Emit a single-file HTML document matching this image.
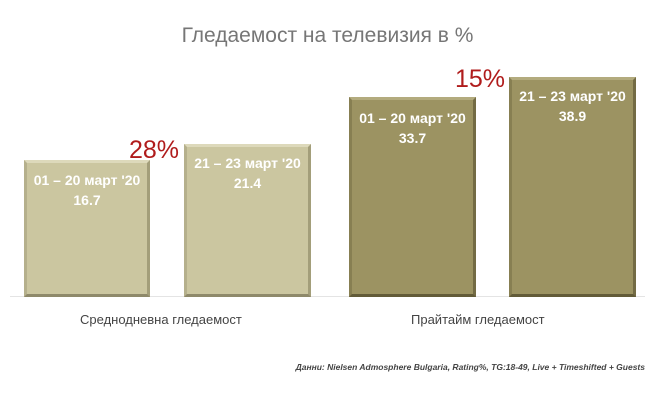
<!DOCTYPE html>
<html><head><meta charset="utf-8"><style>
body{margin:0;width:655px;height:402px;background:#fff;position:relative;overflow:hidden;font-family:"Liberation Sans","DejaVu Sans",sans-serif}
.t{position:absolute;white-space:nowrap}
.bar{position:absolute;box-sizing:border-box;border:3px solid;text-align:center;color:#fff;font-weight:bold;font-size:14px;line-height:20px}
.l{background:#cbc6a0;border-color:#ddd9bb #a39e7a #8e896a #b5b08c}
.d{background:#9c9362;border-color:#b3ab7e #736b44 #625b38 #877f52}
.pct{position:absolute;color:#b01c1c;font-size:25px}
</style></head><body>
<div class="t" style="left:0;width:655px;text-align:center;top:24px;font-size:21px;color:#767676">Гледаемост на телевизия в %</div>
<div style="position:absolute;left:10px;right:10px;top:296px;height:1px;background:#e4e4e4"></div>
<div class="bar l" style="left:24px;top:160px;width:126px;height:137px;padding-top:7px">01 – 20 март '20<br>16.7</div>
<div class="bar l" style="left:184px;top:144px;width:127px;height:153px;padding-top:6px">21 – 23 март '20<br>21.4</div>
<div class="bar d" style="left:349px;top:97px;width:127px;height:200px;padding-top:8px">01 – 20 март '20<br>33.7</div>
<div class="bar d" style="left:509px;top:77px;width:127px;height:220px;padding-top:6px">21 – 23 март '20<br>38.9</div>
<div class="pct" style="left:129px;top:136px">28%</div>
<div class="pct" style="left:455px;top:65px">15%</div>
<div class="t" style="left:80px;top:312px;font-size:13px;color:#444">Среднодневна гледаемост</div>
<div class="t" style="left:411px;top:312px;font-size:13px;color:#444">Прайтайм гледаемост</div>
<div class="t" style="right:10px;top:362px;font-size:8.5px;color:#444;font-weight:bold;font-style:italic">Данни: Nielsen Admosphere Bulgaria, Rating%, TG:18-49, Live + Timeshifted + Guests</div>
</body></html>
